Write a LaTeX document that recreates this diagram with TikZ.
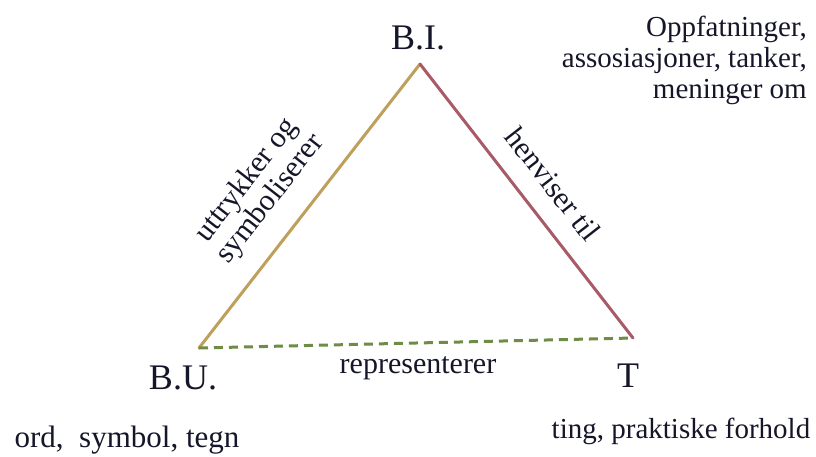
\documentclass[tikz,border=0pt]{standalone}
\usepackage{fontspec}
\setmainfont{Liberation Serif}
\definecolor{inkc}{HTML}{16162A}
\definecolor{goldc}{HTML}{BFA05A}
\definecolor{rosec}{HTML}{A85A66}
\definecolor{greenc}{HTML}{6E8C46}
\tikzset{
  lbl/.style={inner sep=0pt, text=inkc, font=\fontsize{29}{31}\selectfont},
  vlbl/.style={inner sep=0pt, text=inkc, font=\fontsize{36}{40}\selectfont},
  side/.style={line width=3pt, line cap=round},
}
\begin{document}
\begin{tikzpicture}[x=1pt,y=-1pt]
\useasboundingbox[fill=white] (0,0) rectangle (816,456);
\coordinate (top) at (420,64);
\coordinate (bl) at (199,348);
\coordinate (br) at (633,338);
\draw[side, goldc] (bl) -- (top);
\draw[side, rosec] (top) -- (br);
\draw[side, greenc, dash pattern=on 9pt off 6pt, line cap=butt] (bl) -- (br);
\node[vlbl] (bi) at (418,38) {B.I.};
\node[vlbl] (bu) at (183,378) {B.U.};
\node[vlbl] (t) at (628,376) {T};
\node[lbl, align=right, anchor=north east] (opp) at (807,16) {Oppfatninger,\\assosiasjoner, tanker,\\meninger om};
\node[lbl, align=center, rotate=52, font=\fontsize{30}{30}\selectfont] (uttr) at (259,190) {uttrykker og\\symboliserer};
\node[lbl, rotate=-52, font=\fontsize{30}{30}\selectfont] (henv) at (553,184) {henviser til};
\node[lbl, font=\fontsize{30}{30}\selectfont] (repr) at (418,368) {representerer};
\node[lbl, font=\fontsize{31}{31}\selectfont] (ord) at (127,440) {ord,\ \ symbol, tegn};
\node[lbl] (ting) at (681,431) {ting, praktiske forhold};
\end{tikzpicture}
\end{document}
